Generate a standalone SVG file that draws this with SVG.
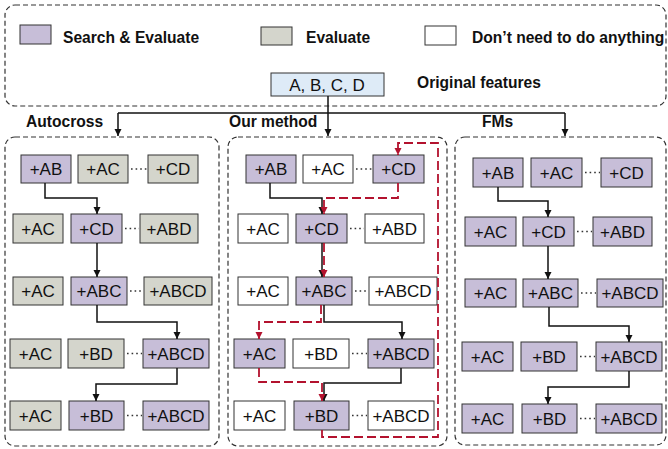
<svg xmlns="http://www.w3.org/2000/svg" width="668" height="449" viewBox="0 0 668 449">
<defs>
<marker id="ab" markerUnits="userSpaceOnUse" markerWidth="8" markerHeight="8" refX="7" refY="3.5" orient="auto"><path d="M0,0 L7,3.5 L0,7 z" fill="#111"/></marker>
<marker id="ar" markerUnits="userSpaceOnUse" markerWidth="8" markerHeight="8" refX="7" refY="3.5" orient="auto"><path d="M0,0 L7,3.5 L0,7 z" fill="#b3122e"/></marker>
</defs>
<style>
text{font-family:"Liberation Sans",Arial,sans-serif;fill:#111}
.lg{font-size:15.6px;font-weight:bold}
.nt{font-size:17px;text-anchor:middle}
.n rect{stroke:#333;stroke-width:1}
.p{fill:#c7bed8}
.g{fill:#d4d5cc}
.w{fill:#fff}
.panel{fill:none;stroke:#333;stroke-width:1.2;stroke-dasharray:5,3}
.c{fill:none;stroke:#111;stroke-width:1.5}
.ca{fill:none;stroke:#111;stroke-width:1.5;marker-end:url(#ab)}
.r{fill:none;stroke:#b3122e;stroke-width:1.8;stroke-dasharray:9,4;marker-end:url(#ar)}
.d{fill:none;stroke:#333;stroke-width:1.6;stroke-dasharray:1.6,3}
</style>
<rect class="panel" x="5" y="5" width="661" height="101" rx="10"/>
<g id="legend">
<rect x="20" y="25" width="31" height="19" class="p" stroke="#333"/>
<text class="lg" x="63" y="43">Search &amp; Evaluate</text>
<rect x="261" y="27" width="31" height="18" class="g" stroke="#333"/>
<text class="lg" x="306" y="43">Evaluate</text>
<rect x="425" y="26" width="31" height="19" class="w" stroke="#333"/>
<text class="lg" x="472" y="43">Don’t need to do anything</text>
</g>
<g id="orig" class="n">
<rect x="271" y="73" width="113" height="23" fill="#deebf7"/>
<text class="nt" x="327" y="91">A, B, C, D</text>
</g>
<text class="lg" x="417" y="88">Original features</text>
<text class="lg" x="26" y="127">Autocross</text>
<text class="lg" x="229" y="127">Our method</text>
<text class="lg" x="482" y="127">FMs</text>
<rect class="panel" x="5" y="137" width="214" height="309" rx="10"/>
<rect class="panel" x="228" y="137" width="219" height="309" rx="10"/>
<rect class="panel" x="455" y="137" width="211" height="308" rx="10"/>

<g id="left">
<g class="n"><rect x="21" y="155" width="50" height="28" class="p"/><text class="nt" x="46" y="175">+AB</text></g>
<g class="n"><rect x="78" y="155" width="50" height="28" class="g"/><text class="nt" x="103" y="175">+AC</text></g>
<g class="n"><rect x="148" y="155" width="50" height="28" class="g"/><text class="nt" x="173" y="175">+CD</text></g>
<g class="n"><rect x="13" y="214" width="50" height="29" class="g"/><text class="nt" x="38" y="235">+AC</text></g>
<g class="n"><rect x="71" y="214" width="51" height="29" class="p"/><text class="nt" x="96.5" y="235">+CD</text></g>
<g class="n"><rect x="140" y="214" width="58" height="29" class="g"/><text class="nt" x="169" y="235">+ABD</text></g>
<g class="n"><rect x="13" y="277" width="50" height="28" class="g"/><text class="nt" x="38" y="297">+AC</text></g>
<g class="n"><rect x="71" y="277" width="56" height="28" class="p"/><text class="nt" x="99" y="297">+ABC</text></g>
<g class="n"><rect x="144" y="277" width="68" height="28" class="g"/><text class="nt" x="178" y="297">+ABCD</text></g>
<g class="n"><rect x="10" y="339" width="51" height="29" class="g"/><text class="nt" x="35.5" y="360">+AC</text></g>
<g class="n"><rect x="68" y="339" width="56" height="29" class="g"/><text class="nt" x="96" y="360">+BD</text></g>
<g class="n"><rect x="143" y="339" width="66" height="29" class="p"/><text class="nt" x="176" y="360">+ABCD</text></g>
<g class="n"><rect x="10" y="401" width="51" height="29" class="g"/><text class="nt" x="35.5" y="422">+AC</text></g>
<g class="n"><rect x="69" y="401" width="55" height="29" class="p"/><text class="nt" x="96.5" y="422">+BD</text></g>
<g class="n"><rect x="143" y="401" width="66" height="29" class="p"/><text class="nt" x="176" y="422">+ABCD</text></g>
</g>

<g id="middle">
<g class="n"><rect x="246" y="155" width="50" height="28" class="p"/><text class="nt" x="271" y="175">+AB</text></g>
<g class="n"><rect x="303" y="155" width="50" height="28" class="w"/><text class="nt" x="328" y="175">+AC</text></g>
<g class="n"><rect x="373" y="155" width="51" height="28" class="p"/><text class="nt" x="398.5" y="175">+CD</text></g>
<g class="n"><rect x="238" y="214" width="50" height="29" class="w"/><text class="nt" x="263" y="235">+AC</text></g>
<g class="n"><rect x="296" y="214" width="51" height="29" class="p"/><text class="nt" x="321.5" y="235">+CD</text></g>
<g class="n"><rect x="365" y="214" width="59" height="29" class="w"/><text class="nt" x="394.5" y="235">+ABD</text></g>
<g class="n"><rect x="238" y="277" width="50" height="28" class="w"/><text class="nt" x="263" y="297">+AC</text></g>
<g class="n"><rect x="296" y="277" width="56" height="28" class="p"/><text class="nt" x="324" y="297">+ABC</text></g>
<g class="n"><rect x="369" y="277" width="68" height="28" class="w"/><text class="nt" x="403" y="297">+ABCD</text></g>
<g class="n"><rect x="234" y="339" width="51" height="29" class="p"/><text class="nt" x="259.5" y="360">+AC</text></g>
<g class="n"><rect x="293" y="339" width="56" height="29" class="w"/><text class="nt" x="321" y="360">+BD</text></g>
<g class="n"><rect x="368" y="339" width="66" height="29" class="p"/><text class="nt" x="401" y="360">+ABCD</text></g>
<g class="n"><rect x="234" y="401" width="51" height="29" class="w"/><text class="nt" x="259.5" y="422">+AC</text></g>
<g class="n"><rect x="294" y="401" width="55" height="29" class="p"/><text class="nt" x="321.5" y="422">+BD</text></g>
<g class="n"><rect x="368" y="401" width="66" height="29" class="w"/><text class="nt" x="401" y="422">+ABCD</text></g>
</g>

<g id="right">
<g class="n"><rect x="473" y="158" width="50" height="29" class="p"/><text class="nt" x="498" y="179">+AB</text></g>
<g class="n"><rect x="531" y="158" width="51" height="29" class="p"/><text class="nt" x="556.5" y="179">+AC</text></g>
<g class="n"><rect x="601" y="158" width="51" height="29" class="p"/><text class="nt" x="626.5" y="179">+CD</text></g>
<g class="n"><rect x="465" y="217" width="51" height="29" class="p"/><text class="nt" x="490.5" y="238">+AC</text></g>
<g class="n"><rect x="523" y="217" width="51" height="29" class="p"/><text class="nt" x="548.5" y="238">+CD</text></g>
<g class="n"><rect x="593" y="217" width="59" height="29" class="p"/><text class="nt" x="622.5" y="238">+ABD</text></g>
<g class="n"><rect x="465" y="279" width="51" height="28" class="p"/><text class="nt" x="490.5" y="299">+AC</text></g>
<g class="n"><rect x="523" y="279" width="55" height="28" class="p"/><text class="nt" x="550.5" y="299">+ABC</text></g>
<g class="n"><rect x="597" y="279" width="66" height="28" class="p"/><text class="nt" x="630" y="299">+ABCD</text></g>
<g class="n"><rect x="462" y="342" width="51" height="29" class="p"/><text class="nt" x="487.5" y="363">+AC</text></g>
<g class="n"><rect x="521" y="342" width="56" height="29" class="p"/><text class="nt" x="549" y="363">+BD</text></g>
<g class="n"><rect x="596" y="342" width="66" height="29" class="p"/><text class="nt" x="629" y="363">+ABCD</text></g>
<g class="n"><rect x="462" y="404" width="51" height="29" class="p"/><text class="nt" x="487.5" y="425">+AC</text></g>
<g class="n"><rect x="522" y="404" width="55" height="29" class="p"/><text class="nt" x="549.5" y="425">+BD</text></g>
<g class="n"><rect x="596" y="404" width="66" height="29" class="p"/><text class="nt" x="629" y="425">+ABCD</text></g>
</g>

<g id="connectors">
<polyline class="c" points="328,96 328,113"/>
<polyline class="c" points="118,113 565,113"/>
<polyline class="ca" points="118,113 118,136"/>
<polyline class="ca" points="328,113 328,136"/>
<polyline class="ca" points="565,113 565,136"/>
<line class="d" x1="131" y1="169" x2="147" y2="169"/>
<line class="d" x1="125" y1="228.5" x2="139" y2="228.5"/>
<line class="d" x1="130" y1="291" x2="143" y2="291"/>
<line class="d" x1="127" y1="353.5" x2="142" y2="353.5"/>
<line class="d" x1="127" y1="415.5" x2="142" y2="415.5"/>
<line class="d" x1="356" y1="169" x2="372" y2="169"/>
<line class="d" x1="350" y1="228.5" x2="364" y2="228.5"/>
<line class="d" x1="355" y1="291" x2="368" y2="291"/>
<line class="d" x1="352" y1="353.5" x2="367" y2="353.5"/>
<line class="d" x1="352" y1="415.5" x2="367" y2="415.5"/>
<line class="d" x1="585" y1="172.5" x2="600" y2="172.5"/>
<line class="d" x1="577" y1="231.5" x2="592" y2="231.5"/>
<line class="d" x1="581" y1="293" x2="596" y2="293"/>
<line class="d" x1="580" y1="356.5" x2="595" y2="356.5"/>
<line class="d" x1="580" y1="418.5" x2="595" y2="418.5"/>
<polyline class="ca" points="45,183 45,198 97,198 97,214"/>
<polyline class="ca" points="97,243 97,277"/>
<polyline class="ca" points="97,305 97,322 177,322 177,339"/>
<polyline class="ca" points="177,368 177,384 96,384 96,401"/>
<polyline class="ca" points="270,183 270,198 322,198 322,214"/>
<polyline class="ca" points="322,243 322,277"/>
<polyline class="ca" points="324,305 324,322 402,322 402,339"/>
<polyline class="ca" points="401,368 401,383 324,383 324,401"/>
<polyline class="r" points="398,183 398,198 324,198 324,214"/>
<polyline class="r" points="324,243 324,277"/>
<polyline class="r" points="321,305 321,322 259,322 259,339"/>
<polyline class="r" points="259,368 259,382 322,382 322,401"/>
<polyline class="r" points="322,430 322,437 438,437 438,143 398,143 398,155"/>
<polyline class="ca" points="498,187 498,201 548,201 548,217"/>
<polyline class="ca" points="548,246 548,279"/>
<polyline class="ca" points="549,307 549,326 629,326 629,342"/>
<polyline class="ca" points="629,371 629,387 548,387 548,404"/>
</g>
</svg>
